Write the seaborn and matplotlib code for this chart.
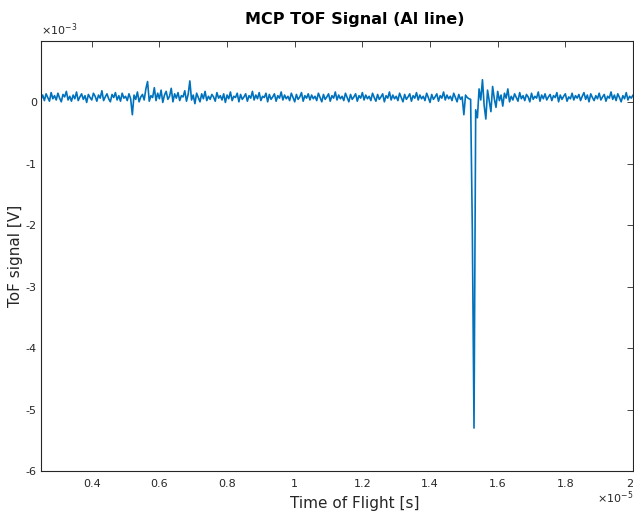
import numpy as np
import pandas as pd
import matplotlib
matplotlib.use("Agg")
import matplotlib.pyplot as plt
import seaborn as sns

# ---- data (time in units of 1e-5 s, signal in units of 1e-5 V) ----
t_start = 0.25
t_step = 0.005
signal = [
    5, 12, 3, 14, 8, 2, 16, 6, 11, 4,
    15, 7, 1, 13, 9, 18, 4, 10, 2, 12,
    6, 17, 3, 9, 14, 5, 11, 0, 13, 8,
    4, 15, 10, 2, 12, 7, 19, 3, 9, 14,
    6, 1, 13, 8, 16, 4, 11, 2, 15, 7,
    10, 3, 14, 6, -20, 12, 5, 17, 1, 9,
    13, 4, 22, 34, 2, 11, 8, 24, 3, 15,
    6, 20, 0, 12, 18, 5, 10, 23, 1, 14,
    7, 16, 3, 11, 9, 19, 2, 13, 35, 4,
    12, -2, 15, 8, 1, 14, 6, 18, 3, 10,
    5, 13, 9, 2, 16, 7, 11, 4, 14, 0,
    12, 6, 17, 3, 10, 8, 15, 1, 13, 5,
    9, 14, 2, 11, 7, 18, 4, 12, 6, 16,
    3, 10, 8, 15, 1, 13, 5, 9, 14, 2,
    11, 7, 17, 4, 12, 6, 10, 3, 15, 8,
    1, 13, 5, 9, 16, 2, 11, 7, 14, 4,
    12, 6, 10, 3, 15, 8, 1, 13, 5, 9,
    14, 2, 11, 7, 17, 4, 12, 6, 10, 3,
    15, 8, 1, 13, 5, 9, 14, 2, 11, 7,
    16, 4, 12, 6, 10, 3, 15, 8, 2, 13,
    5, 9, 14, 1, 11, 7, 17, 4, 12, 6,
    10, 3, 15, 8, 1, 13, 5, 9, 14, 2,
    11, 7, 16, 4, 12, 6, 10, 3, 15, 8,
    0, 13, 5, 9, 14, 2, 11, 7, 17, 4,
    12, 6, 10, 3, 15, 8, 1, 13, 5, 9,
    -20, 12, 8, 6, 5, -205, -530, -12, -25, 22,
    4, 37, -5, -27, 20, 2, -15, 26, 6, -8,
    18, 3, 12, -6, 15, 7, 22, 1, 10, 4,
    14, 8, 2, 16, 6, 11, 3, 13, 9, 1,
    15, 5, 10, 7, 17, 2, 12, 6, 14, 4,
    9, 13, 3, 11, 8, 16, 1, 12, 5, 10,
    14, 2, 9, 6, 15, 4, 11, 7, 13, 3,
    10, 16, 5, 12, 1, 14, 8, 3, 11, 6,
    15, 4, 9, 13, 2, 10, 7, 17, 5, 12,
    3, 14, 8, 1, 11, 6, 16, 4, 10, 7,
    12,
]
x_ticks = [0.4, 0.6, 0.8, 1.0, 1.2, 1.4, 1.6, 1.8, 2.0]
y_ticks = [-6, -5, -4, -3, -2, -1, 0]

time_s = (t_start + t_step * np.arange(len(signal))) * 1e-5
volts = np.array(signal, dtype=float) * 1e-5
df = pd.DataFrame({"t": time_s, "v": volts})

sns.set_style("white")
plt.rcParams["font.family"] = ["DejaVu Sans"]

fig = plt.figure(figsize=(6.34, 5.11), dpi=100)
ax = fig.add_axes([41 / 634, 1 - 471 / 511, 592 / 634, 430 / 511])

sns.lineplot(data=df, x="t", y="v", ax=ax, color="#0072BD", linewidth=1.2,
             estimator=None, sort=False)

ax.set_xlim(0.25e-5, 2.0e-5)
ax.set_ylim(-6e-3, 1e-3)
ax.set_xticks([v * 1e-5 for v in x_ticks])
ax.set_xticklabels([f"{v:g}" for v in x_ticks])
ax.set_yticks([v * 1e-3 for v in y_ticks])
ax.set_yticklabels([f"{v:g}" for v in y_ticks])
ax.get_xticklabels()[-1].set_horizontalalignment("right")

axcol = "#262626"
for s in ax.spines.values():
    s.set_color(axcol)
    s.set_linewidth(0.8)
    s.set_visible(True)
ax.tick_params(direction="in", length=4, width=0.6, colors=axcol,
               labelsize=8, top=True, right=True)
ax.tick_params(axis="y", pad=3)
ax.tick_params(axis="x", pad=6)
ax.grid(False)

ax.set_xlabel("Time of Flight [s]", fontsize=11, color=axcol)
ax.set_ylabel("ToF signal [V]", fontsize=11, color=axcol)
ax.xaxis.set_label_coords(0.53, -0.058)
ax.yaxis.set_label_coords(-0.031, 0.5)
ax.set_title("MCP TOF Signal (Al line)", fontsize=11.5, fontweight="bold",
             color="black", x=0.53, pad=12)

fig.text(41 / 634, 1 - 35 / 511, r"$\times$10$^{-3}$", fontsize=8, color=axcol,
         ha="left", va="baseline")
fig.text(633 / 634, 1 - 503 / 511, r"$\times$10$^{-5}$", fontsize=8, color=axcol,
         ha="right", va="baseline")

fig.savefig("out.png", dpi=100, facecolor="white")
